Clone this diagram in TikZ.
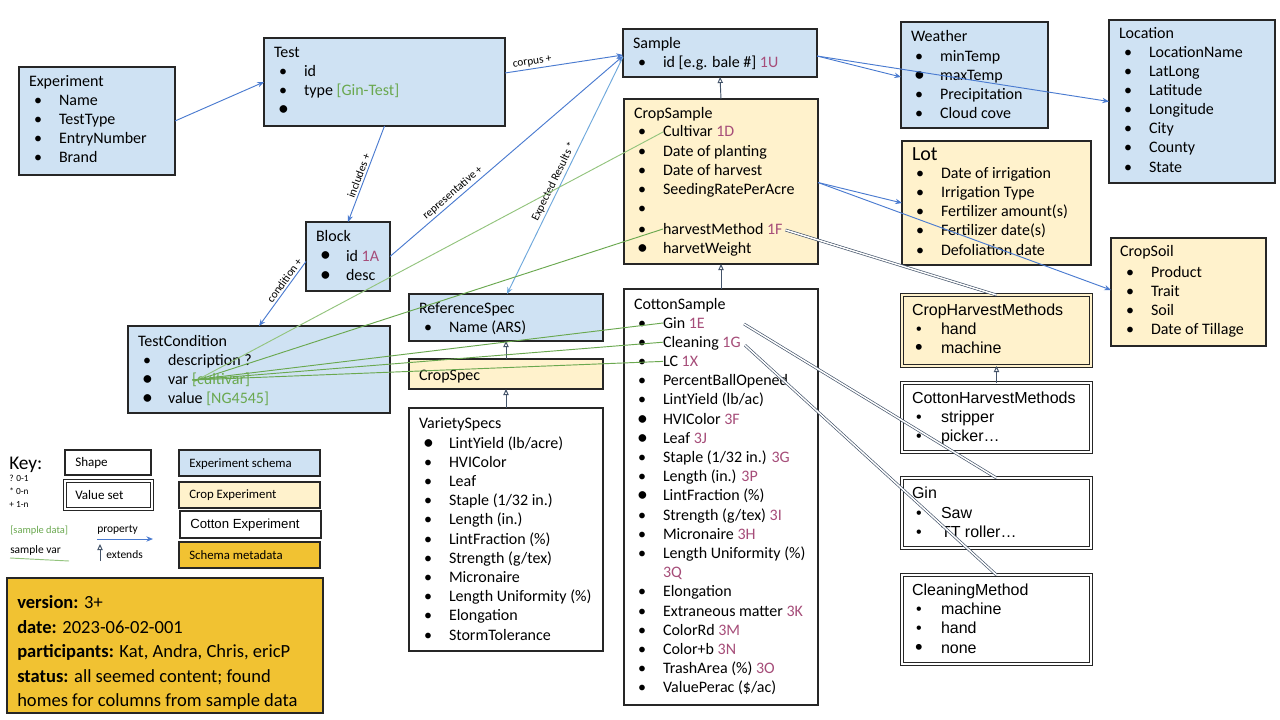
\documentclass[tikz,border=0pt]{standalone}
\usepackage{fontspec}
\setmainfont{Carlito}
\newfontfamily\arialf{Liberation Sans}
\usetikzlibrary{arrows.meta,calc}
\definecolor{eblue}{HTML}{CFE2F3}
\definecolor{cyel}{HTML}{FFF2CC}
\definecolor{mgold}{HTML}{F1C232}
\definecolor{codec}{HTML}{A64D79}
\definecolor{sgreen}{HTML}{6AA84F}
\definecolor{lgreen}{HTML}{93C47D}
\definecolor{ablue}{HTML}{4A7BD0}
\definecolor{lblue}{HTML}{6FA8DC}
\definecolor{slate}{HTML}{44546A}
\newcommand\cd[1]{\textcolor{codec}{#1}}
\newcommand\bx[6]{\node[#6,minimum width={(#4-#2)*0.75pt},minimum height={(#5-#3)*0.75pt}] (#1) at ({(#2+#4)/2},{(#3+#5)/2}) {};}
\newcommand\ttl[5][txt]{\node[#1] (#2) at (#3,{#4+5}) {#5};}
\newcommand\itm[5][txt]{\node[#1] (#2b) at (#3,{#4+5}) {•};\node[#1] (#2) at ({#3+25},{#4+5}) {#5};}
\newcommand\itmB[5][txt]{\node[#1] (#2b) at ({#3-1},{#4+6}) {\scalebox{1.35}{•}};\node[#1] (#2) at ({#3+25},{#4+5}) {#5};}
\begin{document}
\begin{tikzpicture}[x=0.75pt,y=-0.75pt,
  txt/.style={anchor=base west,inner sep=0pt,outer sep=0pt,font=\fontsize{12}{14}\selectfont},
  vtxt/.style={txt,font=\arialf\fontsize{12}{14}\selectfont},
  box/.style={rectangle,draw=black!85,line width=1.1pt,inner sep=0pt,outer sep=0pt},
  vbox/.style={rectangle,draw=black!85,line width=0.75pt,double distance=1.4pt,inner sep=0pt,outer sep=0pt},
  prop/.style={draw=ablue,line width=0.7pt,-{Stealth[length=5pt,width=4pt]}},
  ext/.style={draw=slate,line width=0.7pt,-{Triangle[open,length=4.5pt,width=4pt]}},
  dbl/.style={draw=slate,double=white,double distance=1.1pt,line width=0.5pt},
  gl/.style={draw=sgreen,line width=0.7pt},
  elab/.style={font=\fontsize{8.5}{10}\selectfont,inner sep=1.5pt},
  keytxt/.style={anchor=base west,inner sep=0pt,font=\fontsize{8.6}{10}\selectfont},
  meta/.style={anchor=base west,inner sep=0pt,font=\fontsize{13.9}{16}\selectfont}
]
\useasboundingbox[fill=white] (0,0) rectangle (1280,720);

% ---------- boxes ----------
\bx{exp}{19}{67}{175}{175}{box,fill=eblue}
\bx{test}{264}{38}{505}{126}{box,fill=eblue}
\bx{sample}{623}{29}{817}{77}{box,fill=eblue}
\bx{crop}{624}{99}{818}{264}{box,fill=cyel}
\bx{weather}{901}{22}{1048}{128}{box,fill=eblue}
\bx{loc}{1109}{20}{1275}{183}{box,fill=eblue}
\bx{lot}{902}{141}{1091}{265}{box,fill=cyel}
\bx{soil}{1111}{238}{1266}{346}{box,fill=cyel}
\bx{chm}{902}{295}{1091}{366}{vbox,fill=cyel,double=cyel}
\bx{cothm}{902}{383}{1091}{452}{vbox,fill=white,double=white}
\bx{gin}{902}{478}{1091}{548}{vbox,fill=white,double=white}
\bx{cm}{902}{575}{1091}{664}{vbox,fill=white,double=white}
\bx{block}{306}{222}{390}{291}{box,fill=eblue}
\bx{tc}{128}{326}{390}{413}{box,fill=eblue}
\bx{ref}{409}{294}{603}{341}{box,fill=eblue}
\bx{cspec}{409}{359}{603}{389}{box,fill=cyel}
\bx{var}{409}{408}{603}{651}{box,fill=white}
\bx{cotton}{624}{289}{818}{705}{box,fill=white}

% ---------- Experiment ----------
\ttl{expt}{29}{82}{Experiment}
\itm{expa}{34}{101}{Name}
\itm{expb}{34}{120}{TestType}
\itm{expc}{34}{139}{EntryNumber}
\itm{expd}{34}{158}{Brand}
% ---------- Test ----------
\ttl{testt}{274}{53}{Test}
\itm{testa}{279}{72}{id}
\itm{testb}{279}{91}{type \textcolor{sgreen}{[Gin-Test]}}
\itmB{testc}{279}{110}{}
% ---------- Sample ----------
\ttl{samplet}{633}{44}{Sample}
\itm{samplea}{638}{63}{id [e.g. bale \#] \cd{1U}}
% ---------- CropSample ----------
\ttl{cropt}{634}{114}{CropSample}
\itm{cult}{638}{132}{Cultivar \cd{1D}}
\itm{cropb}{638}{152}{Date of planting}
\itm{cropc}{638}{171}{Date of harvest}
\itm{cropd}{638}{190}{SeedingRatePerAcre}
\itm{crope}{638}{209}{}
\itm{hm}{638}{229}{harvestMethod \cd{1F}}
\itmB{cropg}{638}{248}{harvetWeight}
% ---------- Weather ----------
\ttl{weathert}{911}{37}{Weather}
\itm{wa}{915}{57}{minTemp}
\itmB{wb}{915}{76}{maxTemp}
\itm{wc}{915}{95}{Precipitation}
\itm{wd}{915}{114}{Cloud cove}
% ---------- Location ----------
\ttl{loct}{1119}{34}{Location}
\itm{la}{1124}{53}{LocationName}
\itm{lb}{1124}{72}{LatLong}
\itm{lc}{1124}{91}{Latitude}
\itm{ld}{1124}{110}{Longitude}
\itm{le}{1124}{129}{City}
\itm{lf}{1124}{148}{County}
\itm{lg}{1124}{168}{State}
% ---------- Lot ----------
\node[txt,font=\fontsize{15}{17}\selectfont] (lott) at (912,161) {Lot};
\itm{lota}{916}{174}{Date of irrigation}
\itm{lotb}{916}{193}{Irrigation Type}
\itm{lotc}{916}{212}{Fertilizer amount(s)}
\itm{lotd}{916}{231}{Fertilizer date(s)}
\itm{lote}{916}{250}{Defoliation date}
% ---------- CropSoil ----------
\ttl{soilt}{1120}{252}{CropSoil}
\itm{sa}{1126}{272}{Product}
\itm{sb}{1126}{291}{Trait}
\itm{sc}{1126}{310}{Soil}
\itm{sd}{1126}{329}{Date of Tillage}
% ---------- value sets ----------
\ttl[vtxt]{chmt}{912}{310}{CropHarvestMethods}
\itm[vtxt]{chma}{916}{329}{hand}
\itmB[vtxt]{chmb}{916}{348}{machine}
\ttl[vtxt]{cothmt}{912}{398}{CottonHarvestMethods}
\itm[vtxt]{cotha}{916}{417}{stripper}
\itm[vtxt]{cothb}{916}{436}{picker…}
\ttl[vtxt]{gint}{912}{493}{Gin}
\itm[vtxt]{gina}{916}{513}{Saw}
\itm[vtxt]{ginb}{916}{532}{TT roller…}
\ttl[vtxt]{cmt}{912}{590}{CleaningMethod}
\itm[vtxt]{cma}{916}{609}{machine}
\itm[vtxt]{cmb}{916}{628}{hand}
\itmB[vtxt]{cmc}{916}{648}{none}
% ---------- Block ----------
\ttl{blockt}{316}{237}{Block}
\itmB{blocka}{321}{256}{id \cd{1A}}
\itmB{blockb}{321}{275}{desc}
% ---------- TestCondition ----------
\ttl{tct}{138}{341}{TestCondition}
\itm{tca}{143}{360}{description ?}
\itmB{tcvar}{143}{379}{var}
\node[txt,text=sgreen] (cv) at ([xshift=3pt]tcvar.base east) {[cultivar]};
\itmB{tcc}{143}{398}{value \textcolor{sgreen}{[NG4545]}}
% ---------- ReferenceSpec / CropSpec ----------
\ttl{reft}{419}{308}{ReferenceSpec}
\itm{refa}{424}{327}{Name (ARS)}
\ttl{cspect}{419}{375}{CropSpec}
% ---------- VarietySpecs ----------
\ttl{vart}{419}{423}{VarietySpecs}
\itmB{v0}{424}{443}{LintYield (lb/acre)}
\itm{v1}{424}{462.2}{HVIColor}
\itm{v2}{424}{481.4}{Leaf}
\itm{v3}{424}{500.6}{Staple (1/32 in.)}
\itm{v4}{424}{519.8}{Length (in.)}
\itm{v5}{424}{539}{LintFraction (\%)}
\itm{v6}{424}{558.2}{Strength (g/tex)}
\itm{v7}{424}{577.4}{Micronaire}
\itm{v8}{424}{596.6}{Length Uniformity (\%)}
\itm{v9}{424}{615.8}{Elongation}
\itm{v10}{424}{635}{StormTolerance}
% ---------- CottonSample ----------
\ttl{cottont}{634}{304}{CottonSample}
\itm{csgin}{638}{323}{Gin \cd{1E}}
\itm{csclean}{638}{342.2}{Cleaning \cd{1G}}
\itm{cslc}{638}{361.4}{LC \cd{1X}}
\itm{c3}{638}{380.6}{PercentBallOpened}
\itm{c4}{638}{399.8}{LintYield (lb/ac)}
\itmB{c5}{638}{419}{HVIColor \cd{3F}}
\itmB{c6}{638}{438.2}{Leaf \cd{3J}}
\itm{c7}{638}{457.4}{Staple (1/32 in.) \cd{3G}}
\itm{c8}{638}{476.6}{Length (in.) \cd{3P}}
\itmB{c9}{638}{495.8}{LintFraction (\%)}
\itm{c10}{638}{515}{Strength (g/tex) \cd{3I}}
\itm{c11}{638}{534.2}{Micronaire \cd{3H}}
\itm{c12}{638}{553.4}{Length Uniformity (\%)}
\node[txt] (c13) at (663,577.6) {\cd{3Q}};
\itm{c14}{638}{591.8}{Elongation}
\itm{c15}{638}{611}{Extraneous matter \cd{3K}}
\itm{c16}{638}{630.2}{ColorRd \cd{3M}}
\itm{c17}{638}{649.4}{Color+b \cd{3N}}
\itm{c18}{638}{668.6}{TrashArea (\%) \cd{3O}}
\itm{c19}{638}{687.8}{ValuePerac (\$/ac)}

% ---------- extends ----------
\draw[ext] (crop.north) -- (sample.south);
\draw[ext] (cotton.north) -- (crop.south);
\draw[ext] (cspec.north) -- (ref.south);
\draw[ext] (var.north) -- (cspec.south);
\draw[ext] (cothm.north) -- (chm.south);

% ---------- properties ----------
\draw[prop] (exp.east) -- (test.west);
\draw[prop] ($(test.east)+(0,-9)$) -- node[elab,sloped,above,pos=0.24] (lcorpus) {corpus +} ($(sample.west)+(0,2)$);
\draw[prop] (test.south) -- node[elab,sloped,above,pos=0.54] (lincl) {includes +} (block.north);
\draw[prop] (block.east) -- node[elab,sloped,above,pos=0.29] (lrep) {representative +} ($(sample.west)+(0,3)$);
\draw[prop] ($(block.west)+(0,5)$) -- node[elab,sloped,above,pos=0.35] (lcond) {condition +} (tc.north);
\draw[prop,draw=lblue] ($(sample.west)+(0,4)$) -- node[elab,sloped,above,pos=0.54] (lexp) {Expected Results *} ($(ref.north)+(1,0)$);
\draw[prop] ($(sample.east)+(0,3)$) -- ($(weather.west)+(0,2)$);
\draw[prop] ($(sample.east)+(0,3)$) -- (loc.west);
\draw[prop] ($(crop.east)+(0,1)$) -- (lot.west);
\draw[prop] ($(crop.east)+(0,1)$) -- ($(soil.west)+(0,-2)$);

% ---------- value set links ----------
\draw[dbl] ($(hm.base east)+(3,-4)$) -- (chm.north);
\draw[dbl] ($(csgin.base west)+(81,-4)$) -- (gin.north);
\draw[dbl] ($(csclean.base west)+(82,-2)$) -- (cm.north);

% ---------- sample var links ----------
\draw[gl,draw=lgreen] ($(cv.base west)+(1,-2)$) -- ($(cult.base west)+(0,-5)$);
\draw[gl] ($(cv.base west)+(2,-3)$) -- ($(hm.base west)+(0,-5)$);
\draw[gl] ($(cv.base west)+(0,-4)$) -- ($(csgin.base west)+(0,-5)$);
\draw[gl] ($(cv.base west)+(0,-4)$) -- ($(csclean.base west)+(0,-5)$);
\draw[gl] ($(cv.base west)+(0,-4)$) -- ($(cslc.base west)+(0,-5)$);

% ---------- key ----------
\node[anchor=base west,inner sep=0pt,font=\fontsize{14.5}{16}\selectfont] (keyt) at (9,469) {Key:};
\node[anchor=base west,inner sep=0pt,font=\fontsize{7}{8}\selectfont] (k1) at (9,481) {? 0-1};
\node[anchor=base west,inner sep=0pt,font=\fontsize{7}{8}\selectfont] (k2) at (9,494) {* 0-n};
\node[anchor=base west,inner sep=0pt,font=\fontsize{7}{8}\selectfont] (k3) at (9,507) {+ 1-n};
\bx{kshape}{65}{450}{151}{475}{box,fill=white}
\node[anchor=base west,inner sep=0pt,font=\fontsize{9.8}{12}\selectfont] (kshapet) at (75,466) {Shape};
\bx{kval}{65}{481}{152}{509}{vbox,fill=white,double=white}
\node[anchor=base west,inner sep=0pt,font=\fontsize{9.8}{12}\selectfont] (kvalt) at (75,499) {Value set};
\node[keytxt,text=sgreen,font=\fontsize{7.8}{9}\selectfont] (ksd) at (10,533) {[sample data]};
\node[keytxt] (ksv) at (10,553) {sample var};
\coordinate (ksv1) at (10,558);
\coordinate (ksv2) at (69,561);
\draw[gl,draw=lgreen] (ksv1) -- (ksv2);
\node[keytxt] (kprop) at (97,532) {property};
\coordinate (kp1) at (97,539);
\coordinate (kp2) at (153,539);
\draw[prop] (kp1) -- (kp2);
\coordinate (ke1) at (100,561);
\coordinate (ke2) at (100,544);
\draw[ext] (ke1) -- (ke2);
\node[keytxt] (kext) at (106,558) {extends};
\bx{kes}{179}{450}{320}{476}{box,fill=eblue}
\node[anchor=base west,inner sep=0pt,font=\fontsize{9.6}{12}\selectfont] (kest) at (189,467) {Experiment schema};
\bx{kce}{179}{482}{320}{508}{box,fill=cyel}
\node[anchor=base west,inner sep=0pt,font=\fontsize{9.6}{12}\selectfont] (kcet) at (189,498) {Crop Experiment};
\bx{kcot}{180}{511}{321}{538}{box,fill=white,line width=1.4pt}
\node[anchor=base west,inner sep=0pt,font=\arialf\fontsize{9.9}{12}\selectfont] (kcott) at (190,528) {Cotton Experiment};
\bx{ksm}{179}{542}{320}{568}{box,fill=mgold}
\node[anchor=base west,inner sep=0pt,font=\fontsize{9.6}{12}\selectfont] (ksmt) at (189,559) {Schema metadata};

% ---------- metadata ----------
\bx{meta}{7}{578}{323}{713}{box,fill=mgold,line width=1.5pt}
\node[meta] (m1) at (17,608) {\textbf{version:} 3+};
\node[meta] (m2) at (17,633) {\textbf{date:} 2023-06-02-001};
\node[meta] (m3) at (17,657) {\textbf{participants:} Kat, Andra, Chris, ericP};
\node[meta] (m4) at (17,682) {\textbf{status:} all seemed content; found};
\node[meta] (m5) at (17,706) {homes for columns from sample data};
\end{tikzpicture}
\end{document}
